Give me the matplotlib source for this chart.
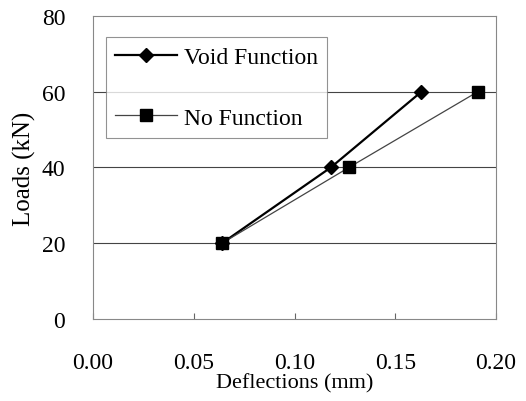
import numpy as np
import matplotlib.pyplot as plt

# data
void_x = [0.064, 0.118, 0.163]
void_y = [20, 40, 60]
nof_x = [0.064, 0.127, 0.191]
nof_y = [20, 40, 60]
xticks = [0.00, 0.05, 0.10, 0.15, 0.20]
yticks = [0, 20, 40, 60, 80]

plt.rcParams['font.family'] = 'Liberation Serif'

fig = plt.figure(figsize=(5.26, 4.02), dpi=100)
ax = fig.add_axes([0.177, 0.204, 0.766, 0.754])

ax.plot(void_x, void_y, color='black', lw=1.6, marker='D', ms=7.5,
        label='Void Function')
ax.plot(nof_x, nof_y, color='#444444', lw=0.9, marker='s', ms=9,
        mfc='black', mec='black', label='No Function')

ax.set_xlim(0, 0.20)
ax.set_ylim(0, 80)
ax.set_xticks(xticks)
ax.set_xticklabels(['%.2f' % v for v in xticks])
ax.set_yticks(yticks)
for y in [20, 40, 60]:
    ax.axhline(y, color='#444444', lw=0.8, zorder=0)

ax.tick_params(axis='x', direction='in', length=4, pad=24, labelsize=17,
               color='#666666')
ax.tick_params(axis='y', length=0, pad=20, labelsize=17)
for s in ax.spines.values():
    s.set_color('#888888')
    s.set_linewidth(0.8)

ax.set_xlabel('Deflections (mm)', fontsize=16, labelpad=0)
ax.set_ylabel('Loads (kN)', fontsize=18, labelpad=4)

leg = ax.legend(loc='upper left', bbox_to_anchor=(0.032, 0.93), fontsize=17,
                frameon=True, fancybox=False, handlelength=2.6,
                labelspacing=1.65, borderpad=0.4, handletextpad=0.3,
                borderaxespad=0)
leg.get_frame().set_edgecolor('#777777')
leg.get_frame().set_linewidth(0.8)

plt.savefig('out.png', dpi=100)
